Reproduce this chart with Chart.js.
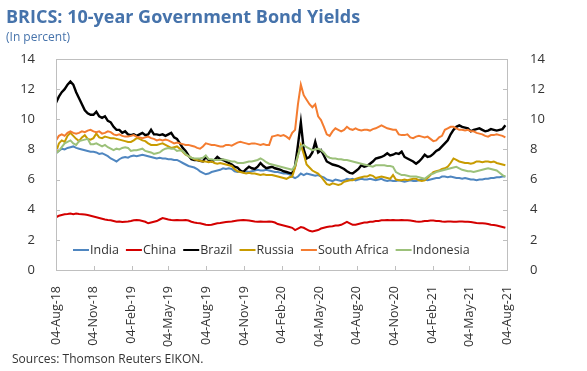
<!DOCTYPE html>
<html>
<head>
<meta charset="utf-8">
<script src="https://cdn.jsdelivr.net/npm/chart.js@4.4.7/dist/chart.umd.min.js"></script>
<style>
  html, body { margin: 0; padding: 0; background: #ffffff; }
  #wrap { position: relative; width: 587px; height: 371px; }
</style>
</head>
<body>
<div id="wrap"><canvas id="bondChart" width="587" height="371"></canvas></div>
<script>
// Quarterly axis labels and the dates they sit on
const tickLabels = ["04-Aug-18", "04-Nov-18", "04-Feb-19", "04-May-19", "04-Aug-19", "04-Nov-19",
  "04-Feb-20", "04-May-20", "04-Aug-20", "04-Nov-20", "04-Feb-21", "04-May-21", "04-Aug-21"];
const tickDates = ["2018-08-04", "2018-11-04", "2019-02-04", "2019-05-04", "2019-08-04", "2019-11-04",
  "2020-02-04", "2020-05-04", "2020-08-04", "2020-11-04", "2021-02-04", "2021-05-04", "2021-08-04"];

const seriesNames = ["India", "China", "Brazil", "Russia", "South Africa", "Indonesia"];
const seriesColors = ["#4f86c0", "#d40000", "#000000", "#c89b00", "#f47c30", "#9cc17a"];

// Weekly 10-year yields, percent, starting 04-Aug-18
const india = [7.75, 7.9, 8.05, 8.0, 8.1, 8.15, 8.2, 8.1, 8.05, 8.0, 7.95, 7.9, 7.85, 7.85, 7.8, 7.7,
  7.75, 7.65, 7.55, 7.4, 7.3, 7.2, 7.35, 7.45, 7.5, 7.45, 7.55, 7.6, 7.55, 7.6, 7.65, 7.6, 7.55, 7.5,
  7.45, 7.4, 7.45, 7.4, 7.4, 7.35, 7.35, 7.3, 7.3, 7.2, 7.1, 7.0, 6.9, 6.85, 6.8, 6.7, 6.55, 6.45,
  6.35, 6.4, 6.5, 6.55, 6.6, 6.65, 6.75, 6.7, 6.75, 6.7, 6.55, 6.5, 6.55, 6.5, 6.55, 6.5, 6.55, 6.6,
  6.65, 6.6, 6.6, 6.65, 6.6, 6.55, 6.5, 6.5, 6.45, 6.4, 6.4, 6.35, 6.2, 6.1, 6.2, 6.4, 6.3, 6.4,
  6.35, 6.3, 6.25, 6.3, 6.2, 6.15, 6.0, 5.95, 5.9, 6.0, 5.95, 5.9, 5.95, 6.05, 6.0, 6.05, 5.95, 6.0,
  6.05, 6.0, 6.0, 6.05, 6.0, 5.95, 6.0, 6.05, 5.95, 5.9, 5.95, 5.9, 5.9, 5.95, 5.9, 5.85, 5.9, 5.95,
  5.9, 5.9, 5.95, 6.0, 6.0, 5.95, 6.0, 6.05, 6.1, 6.1, 6.2, 6.2, 6.15, 6.2, 6.15, 6.1, 6.1, 6.05,
  6.1, 6.05, 6.0, 6.0, 5.95, 6.0, 6.0, 6.05, 6.05, 6.1, 6.1, 6.15, 6.15, 6.2, 6.2];

const china = [3.5, 3.6, 3.65, 3.7, 3.72, 3.75, 3.7, 3.75, 3.72, 3.7, 3.68, 3.65, 3.6, 3.55, 3.5, 3.45,
  3.4, 3.35, 3.32, 3.3, 3.25, 3.2, 3.22, 3.18, 3.2, 3.22, 3.25, 3.3, 3.32, 3.3, 3.25, 3.2, 3.1, 3.15,
  3.2, 3.25, 3.35, 3.45, 3.4, 3.35, 3.32, 3.3, 3.32, 3.3, 3.3, 3.32, 3.28, 3.2, 3.15, 3.12, 3.1, 3.05,
  3.0, 2.98, 3.0, 3.05, 3.1, 3.12, 3.15, 3.18, 3.2, 3.22, 3.25, 3.28, 3.3, 3.32, 3.3, 3.28, 3.25, 3.22,
  3.2, 3.22, 3.2, 3.2, 3.22, 3.2, 3.15, 3.05, 3.0, 2.95, 2.9, 2.85, 2.8, 2.65, 2.75, 2.85, 2.8, 2.7,
  2.6, 2.55, 2.6, 2.65, 2.75, 2.8, 2.85, 2.88, 2.9, 2.95, 2.95, 3.0, 3.1, 3.2, 3.1, 3.0, 3.0, 3.05,
  3.1, 3.15, 3.15, 3.2, 3.2, 3.25, 3.25, 3.3, 3.3, 3.32, 3.3, 3.32, 3.3, 3.3, 3.32, 3.3, 3.3, 3.28,
  3.25, 3.22, 3.2, 3.22, 3.25, 3.25, 3.28, 3.28, 3.25, 3.25, 3.22, 3.2, 3.22, 3.22, 3.2, 3.2, 3.22,
  3.22, 3.2, 3.2, 3.18, 3.15, 3.12, 3.1, 3.1, 3.08, 3.05, 3.0, 2.98, 2.95, 2.9, 2.85, 2.8];

const brazil = [11.1, 11.5, 11.8, 12.0, 12.3, 12.5, 12.3, 11.8, 11.4, 11.0, 10.6, 10.4, 10.3, 10.3,
  10.5, 10.2, 10.1, 10.2, 9.9, 9.8, 9.5, 9.3, 9.3, 9.1, 9.2, 9.0, 8.95, 9.0, 8.9, 9.0, 9.1, 8.95, 9.0,
  9.3, 9.0, 9.0, 8.95, 9.0, 8.9, 9.0, 9.1, 8.8, 8.7, 8.4, 8.1, 7.9, 7.6, 7.35, 7.3, 7.3, 7.25, 7.2,
  7.5, 7.3, 7.2, 7.3, 7.5, 7.35, 7.3, 7.2, 7.1, 7.0, 6.85, 6.8, 6.6, 6.5, 6.7, 6.85, 6.75, 6.7, 6.85,
  7.1, 6.9, 6.75, 6.8, 6.85, 6.75, 6.7, 6.65, 6.55, 6.5, 6.45, 6.4, 6.9, 8.3, 9.8, 8.0, 7.4, 7.5,
  7.8, 8.5, 7.8, 7.95, 7.6, 7.2, 7.1, 7.0, 6.95, 6.9, 6.8, 6.7, 6.55, 6.45, 6.4, 6.55, 6.7, 6.95,
  6.85, 6.9, 7.05, 7.2, 7.4, 7.45, 7.5, 7.6, 7.75, 7.6, 7.65, 7.75, 7.7, 7.85, 7.5, 7.4, 7.3, 7.2,
  7.05, 7.2, 7.4, 7.65, 7.5, 7.55, 7.7, 7.9, 8.0, 8.2, 8.4, 8.6, 9.0, 9.3, 9.5, 9.6, 9.5, 9.45, 9.4,
  9.2, 9.3, 9.35, 9.4, 9.3, 9.2, 9.25, 9.35, 9.3, 9.25, 9.3, 9.35, 9.6];

const russia = [7.8, 8.4, 8.6, 8.5, 8.9, 9.1, 8.9, 8.7, 8.55, 8.8, 8.95, 8.7, 8.65, 8.75, 9.05, 8.8,
  8.75, 8.85, 8.8, 8.75, 8.75, 8.7, 8.65, 8.6, 8.55, 8.5, 8.5, 8.6, 8.75, 8.7, 8.6, 8.55, 8.4, 8.3,
  8.3, 8.3, 8.35, 8.4, 8.3, 8.2, 8.1, 8.15, 8.2, 8.05, 7.85, 7.65, 7.55, 7.45, 7.35, 7.3, 7.25, 7.2,
  7.2, 7.15, 7.2, 7.1, 7.05, 7.1, 7.05, 7.0, 6.95, 6.9, 6.7, 6.55, 6.5, 6.45, 6.4, 6.45, 6.4, 6.4,
  6.35, 6.3, 6.35, 6.3, 6.3, 6.3, 6.25, 6.2, 6.15, 6.1, 6.05, 6.15, 6.2, 6.8, 7.6, 8.3, 7.7, 7.0,
  6.8, 6.6, 6.5, 6.4, 6.2, 5.95, 5.7, 5.65, 5.75, 5.7, 5.65, 5.7, 5.85, 5.9, 5.95, 5.95, 6.05, 6.1,
  6.15, 6.2, 6.2, 6.3, 6.25, 6.1, 6.15, 6.2, 6.15, 6.1, 6.05, 6.3, 6.0, 5.95, 5.95, 6.0, 5.95, 6.0,
  6.05, 6.05, 5.95, 5.9, 5.95, 6.1, 6.3, 6.5, 6.55, 6.6, 6.7, 6.75, 6.85, 7.1, 7.4, 7.3, 7.2, 7.15,
  7.1, 7.1, 7.05, 7.1, 7.2, 7.2, 7.15, 7.2, 7.2, 7.15, 7.2, 7.1, 7.05, 7.0, 6.95];

const southAfrica = [8.6, 8.9, 9.0, 8.9, 9.1, 9.2, 9.1, 9.05, 9.1, 9.2, 9.15, 9.25, 9.3, 9.2, 9.15,
  9.2, 9.05, 9.1, 9.2, 9.15, 9.0, 8.95, 9.0, 8.9, 8.85, 8.85, 8.9, 8.95, 8.85, 8.8, 8.75, 8.8, 8.85,
  8.75, 8.7, 8.6, 8.65, 8.6, 8.65, 8.6, 8.5, 8.4, 8.45, 8.4, 8.35, 8.3, 8.3, 8.25, 8.2, 8.1, 8.05,
  8.2, 8.4, 8.35, 8.3, 8.3, 8.25, 8.2, 8.2, 8.3, 8.3, 8.25, 8.35, 8.45, 8.5, 8.45, 8.4, 8.35, 8.4,
  8.4, 8.35, 8.3, 8.35, 8.3, 8.3, 8.85, 8.9, 8.95, 8.9, 8.95, 8.85, 8.7, 9.1, 9.3, 11.0, 12.3, 11.6,
  11.3, 11.0, 10.8, 11.0, 10.2, 9.95, 9.5, 9.0, 8.9, 9.2, 9.4, 9.3, 9.2, 9.3, 9.5, 9.35, 9.3, 9.4,
  9.3, 9.25, 9.3, 9.3, 9.25, 9.35, 9.4, 9.5, 9.6, 9.5, 9.4, 9.35, 9.3, 9.3, 9.0, 8.95, 8.95, 9.0,
  8.8, 8.75, 8.85, 8.9, 8.85, 8.8, 8.85, 8.7, 8.55, 8.6, 8.8, 8.9, 9.3, 9.4, 9.5, 9.5, 9.4, 9.3, 9.3,
  9.25, 9.3, 9.2, 9.2, 9.1, 9.05, 9.0, 8.9, 8.85, 8.95, 8.95, 9.0, 8.95, 8.9, 8.8];

const indonesia = [7.75, 7.9, 8.15, 8.4, 8.5, 8.6, 8.4, 8.3, 8.55, 8.6, 8.65, 8.7, 8.35, 8.35, 8.4,
  8.3, 8.2, 8.3, 8.15, 8.05, 7.95, 8.05, 8.0, 8.1, 8.15, 8.1, 7.9, 7.95, 7.95, 8.0, 8.05, 7.9, 7.85,
  7.8, 7.7, 7.75, 7.8, 7.95, 8.05, 8.1, 8.05, 8.05, 7.9, 7.95, 7.9, 7.7, 7.55, 7.45, 7.4, 7.4, 7.4,
  7.45, 7.6, 7.35, 7.35, 7.3, 7.3, 7.3, 7.35, 7.3, 7.25, 7.2, 7.2, 7.1, 7.1, 7.1, 7.15, 7.2, 7.2,
  7.25, 7.3, 7.4, 7.3, 7.15, 7.05, 7.0, 6.95, 6.9, 6.85, 6.8, 6.75, 6.7, 6.65, 6.95, 7.6, 8.2, 8.3,
  8.15, 8.05, 7.95, 8.0, 8.05, 7.95, 7.8, 7.55, 7.45, 7.4, 7.4, 7.35, 7.35, 7.3, 7.3, 7.25, 7.2,
  7.15, 7.1, 7.05, 7.0, 6.95, 6.9, 6.85, 6.95, 6.95, 6.95, 6.95, 6.9, 6.9, 6.85, 6.5, 6.4, 6.3, 6.3,
  6.25, 6.2, 6.2, 6.2, 6.15, 6.1, 6.05, 6.2, 6.35, 6.4, 6.5, 6.55, 6.6, 6.65, 6.7, 6.75, 6.8, 6.85,
  6.75, 6.65, 6.6, 6.55, 6.55, 6.5, 6.55, 6.6, 6.65, 6.7, 6.75, 6.7, 6.65, 6.6, 6.45, 6.3, 6.2];

const seriesValues = [india, china, brazil, russia, southAfrica, indonesia];

const DAY = 86400000;
const startTime = Date.parse(tickDates[0]);
const tickDays = tickDates.map((d) => Math.round((Date.parse(d) - startTime) / DAY));
const lastDay = tickDays[tickDays.length - 1];

const FONT = "'Open Sans', 'Noto Sans', sans-serif";
const AXIS_COLOR = "#bfbfbf";
const TEXT_COLOR = "#333333";
const TITLE_COLOR = "#4673ab";

const datasets = seriesValues.map((values, index) => ({
  label: seriesNames[index],
  data: values.map((y, week) => ({ x: week * 7, y })),
  borderColor: seriesColors[index],
  borderWidth: index === 2 ? 2.4 : 2,
  pointRadius: 0,
  tension: 0,
  fill: false,
  // later series sit on top of earlier ones
  order: seriesValues.length - index,
}));

// Frame, inward tick marks, legend and the text blocks around the chart
const decorations = {
  id: "decorations",
  afterDraw(chart) {
    const { ctx, chartArea: area, scales } = chart;
    ctx.save();

    ctx.strokeStyle = AXIS_COLOR;
    ctx.lineWidth = 1;
    ctx.strokeRect(Math.round(area.left) + 0.5, Math.round(area.top) + 0.5,
      Math.round(area.right - area.left), Math.round(area.bottom - area.top));

    ctx.beginPath();
    scales.y.ticks.forEach((tick) => {
      const y = Math.round(scales.y.getPixelForValue(tick.value)) + 0.5;
      ctx.moveTo(area.left, y);
      ctx.lineTo(area.left + 4, y);
      ctx.moveTo(area.right, y);
      ctx.lineTo(area.right - 4, y);
    });
    tickDays.forEach((day) => {
      const x = Math.round(scales.x.getPixelForValue(day)) + 0.5;
      ctx.moveTo(x, area.bottom);
      ctx.lineTo(x, area.bottom - 4);
    });
    ctx.stroke();

    // legend row inside the plot
    ctx.font = `12.5px ${FONT}`;
    ctx.textBaseline = "middle";
    ctx.textAlign = "left";
    let x = area.left + 17;
    const legendY = 250;
    seriesNames.forEach((name, index) => {
      ctx.strokeStyle = seriesColors[index];
      ctx.lineWidth = 2;
      ctx.beginPath();
      ctx.moveTo(x, legendY);
      ctx.lineTo(x + 16, legendY);
      ctx.stroke();
      ctx.fillStyle = TEXT_COLOR;
      ctx.fillText(name, x + 17, legendY);
      x += 17 + ctx.measureText(name).width + 7;
    });

    ctx.textBaseline = "alphabetic";
    ctx.fillStyle = TITLE_COLOR;
    ctx.font = `bold 18px ${FONT}`;
    ctx.fillText("BRICS: 10-year Government Bond Yields", 6, 23);
    ctx.font = `12px ${FONT}`;
    ctx.fillText("(In percent)", 6, 41);

    ctx.fillStyle = TEXT_COLOR;
    ctx.font = `12px ${FONT}`;
    ctx.fillText("Sources: Thomson Reuters EIKON.", 12, 363);
    ctx.restore();
  },
};

const yTicks = (padding) => ({
  stepSize: 2,
  padding,
  color: TEXT_COLOR,
  font: { family: FONT, size: 13 },
});

new Chart(document.getElementById("bondChart"), {
  type: "line",
  data: { datasets },
  options: {
    responsive: false,
    animation: false,
    devicePixelRatio: 1,
    layout: { padding: { top: 59, left: 0, right: 0, bottom: 0 } },
    plugins: {
      legend: { display: false },
      tooltip: { enabled: false },
    },
    scales: {
      x: {
        type: "linear",
        min: 0,
        max: lastDay,
        grid: { display: false },
        border: { display: false },
        afterBuildTicks(scale) {
          scale.ticks = tickDays.map((value) => ({ value }));
        },
        afterFit(scale) {
          scale.height = 101;
        },
        ticks: {
          autoSkip: false,
          maxRotation: 90,
          minRotation: 90,
          padding: 8,
          color: TEXT_COLOR,
          font: { family: FONT, size: 12.5 },
          callback: (value, index) => tickLabels[index],
        },
      },
      y: {
        position: "left",
        min: 0,
        max: 14,
        grid: { display: false },
        border: { display: false },
        ticks: yTicks(13),
        afterFit(scale) {
          scale.width = 56;
        },
      },
      y1: {
        position: "right",
        min: 0,
        max: 14,
        grid: { display: false },
        border: { display: false },
        ticks: yTicks(15),
        afterFit(scale) {
          scale.width = 80;
        },
      },
    },
  },
  plugins: [decorations],
});
</script>
</body>
</html>
